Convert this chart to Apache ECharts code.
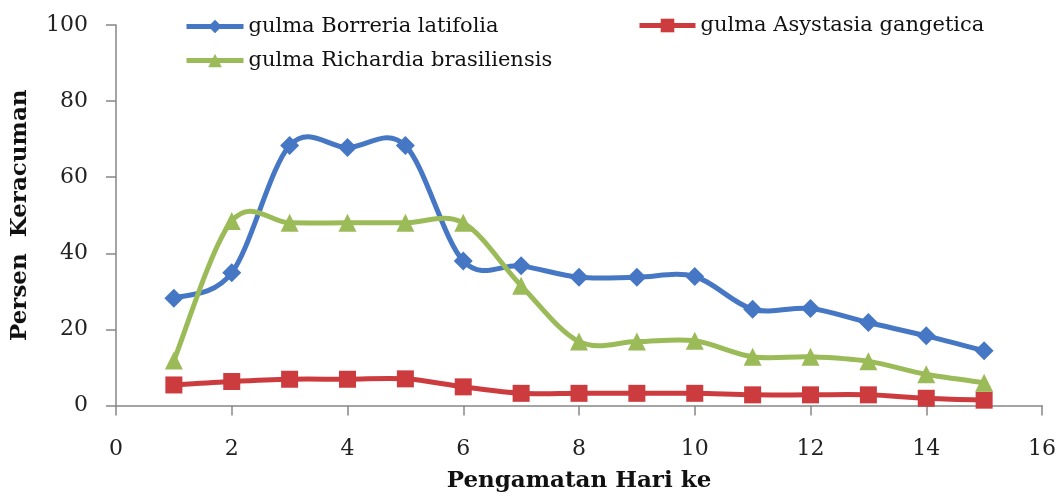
<!DOCTYPE html>
<html>
<head>
<meta charset="utf-8">
<script src="https://cdn.jsdelivr.net/npm/echarts@6/dist/echarts.min.js"></script>
<style>
  html, body { margin: 0; padding: 0; background: #ffffff; }
  #chart { width: 1059px; height: 496px; }
</style>
</head>
<body>
<div id="chart"></div>
<script>
// Observation day (Pengamatan Hari ke)
const days = [1, 2, 3, 4, 5, 6, 7, 8, 9, 10, 11, 12, 13, 14, 15];

// Persen keracuman per weed species
const borreria = [28.2, 34.9, 68.3, 67.8, 68.3, 38, 36.7, 33.7, 33.7, 33.9, 25.3, 25.5, 21.8, 18.3, 14.4];
const asystasia = [5.4, 6.3, 6.9, 6.9, 7.0, 4.9, 3.2, 3.2, 3.2, 3.2, 2.8, 2.8, 2.8, 1.9, 1.4];
const richardia = [11.8, 48.5, 48, 48, 48, 48, 31.5, 16.8, 16.8, 17, 12.8, 12.8, 11.6, 8.2, 6.0];

const seriesNames = ['gulma Borreria latifolia', 'gulma Asystasia gangetica', 'gulma Richardia brasiliensis'];

const xTicks = { min: 0, max: 16, interval: 2 };
const yTicks = { min: 0, max: 100, interval: 20 };

const FONT = 'DejaVu Serif';
const axisGray = '#868686';
const COLORS = { borreria: '#4677C4', asystasia: '#CC3B3E', richardia: '#9BBB59' };
const LINE_W = 5;

function pairs(vals) {
  return days.map((d, i) => [d, vals[i]]);
}

// Smoothed curve: one cubic Bezier per segment, Catmull-Rom style tangents (1/6),
// with control points computed in pixel space from the axis coordinates.
function curveSeries(vals, color, z) {
  return {
    type: 'custom',
    data: pairs(vals),
    encode: { x: 0, y: 1 },
    z: z,
    silent: true,
    clip: false,
    renderItem: function (params, api) {
      const i = params.dataIndex;
      if (i >= days.length - 1) return null;
      const pt = k => api.coord([days[Math.max(0, Math.min(days.length - 1, k))],
                                 vals[Math.max(0, Math.min(days.length - 1, k))]]);
      const p0 = pt(i - 1), p1 = pt(i), p2 = pt(i + 1), p3 = pt(i + 2);
      return {
        type: 'bezierCurve',
        shape: {
          x1: p1[0], y1: p1[1],
          x2: p2[0], y2: p2[1],
          cpx1: p1[0] + (p2[0] - p0[0]) / 6, cpy1: p1[1] + (p2[1] - p0[1]) / 6,
          cpx2: p2[0] - (p3[0] - p1[0]) / 6, cpy2: p2[1] - (p3[1] - p1[1]) / 6
        },
        style: { stroke: color, lineWidth: LINE_W, fill: null, lineCap: 'round' }
      };
    }
  };
}

function markerSeries(name, vals, symbol, size, color, z) {
  return {
    name: name, type: 'line',
    data: pairs(vals),
    symbol: symbol, symbolSize: size,
    itemStyle: { color: color },
    lineStyle: { color: color, width: LINE_W, opacity: 0 },
    z: z
  };
}

function legendEntry(name, color) {
  return { name: name, lineStyle: { color: color, width: LINE_W, opacity: 1 } };
}

const chart = echarts.init(document.getElementById('chart'), null, { renderer: 'canvas' });

const legendText = { fontFamily: FONT, fontSize: 21, color: '#111' };

chart.setOption({
  backgroundColor: '#ffffff',
  animation: false,
  grid: { left: 116, right: 17, top: 25, bottom: 90.5, outerBoundsMode: 'none', containLabel: false },
  legend: [
    {
      data: [legendEntry(seriesNames[0], COLORS.borreria), legendEntry(seriesNames[2], COLORS.richardia)],
      orient: 'vertical',
      left: 184, top: 16, padding: 0,
      itemWidth: 57, itemHeight: 17, itemGap: 13,
      textStyle: legendText
    },
    {
      data: [legendEntry(seriesNames[1], COLORS.asystasia)],
      orient: 'vertical',
      left: 637, top: 15, padding: 0,
      itemWidth: 56, itemHeight: 17,
      textStyle: legendText
    }
  ],
  xAxis: {
    type: 'value',
    min: xTicks.min, max: xTicks.max, interval: xTicks.interval,
    name: 'Pengamatan Hari ke',
    nameLocation: 'middle',
    nameGap: 64,
    nameTextStyle: { fontFamily: FONT, fontSize: 23, fontWeight: 'bold', color: '#111' },
    axisLine: { lineStyle: { color: axisGray, width: 1.5 } },
    axisTick: { show: true, inside: false, length: 10, lineStyle: { color: axisGray, width: 1.5 } },
    axisLabel: { fontFamily: FONT, fontSize: 22, color: '#222', margin: 33 },
    splitLine: { show: false }
  },
  yAxis: {
    type: 'value',
    min: yTicks.min, max: yTicks.max, interval: yTicks.interval,
    name: 'Persen  Keracuman',
    nameLocation: 'middle',
    nameGap: 84,
    nameTextStyle: { fontFamily: FONT, fontSize: 23, fontWeight: 'bold', color: '#111' },
    axisLine: { show: true, lineStyle: { color: axisGray, width: 1.5 } },
    axisTick: { show: true, inside: false, length: 10, lineStyle: { color: axisGray, width: 1.5 } },
    axisLabel: { fontFamily: FONT, fontSize: 22, color: '#222', margin: 28 },
    splitLine: { show: false }
  },
  series: [
    curveSeries(borreria, COLORS.borreria, 3),
    curveSeries(asystasia, COLORS.asystasia, 4),
    curveSeries(richardia, COLORS.richardia, 5),
    markerSeries(seriesNames[0], borreria, 'diamond', 19, COLORS.borreria, 6),
    markerSeries(seriesNames[1], asystasia, 'rect', 17, COLORS.asystasia, 7),
    markerSeries(seriesNames[2], richardia, 'triangle', 18, COLORS.richardia, 8)
  ]
});
</script>
</body>
</html>
